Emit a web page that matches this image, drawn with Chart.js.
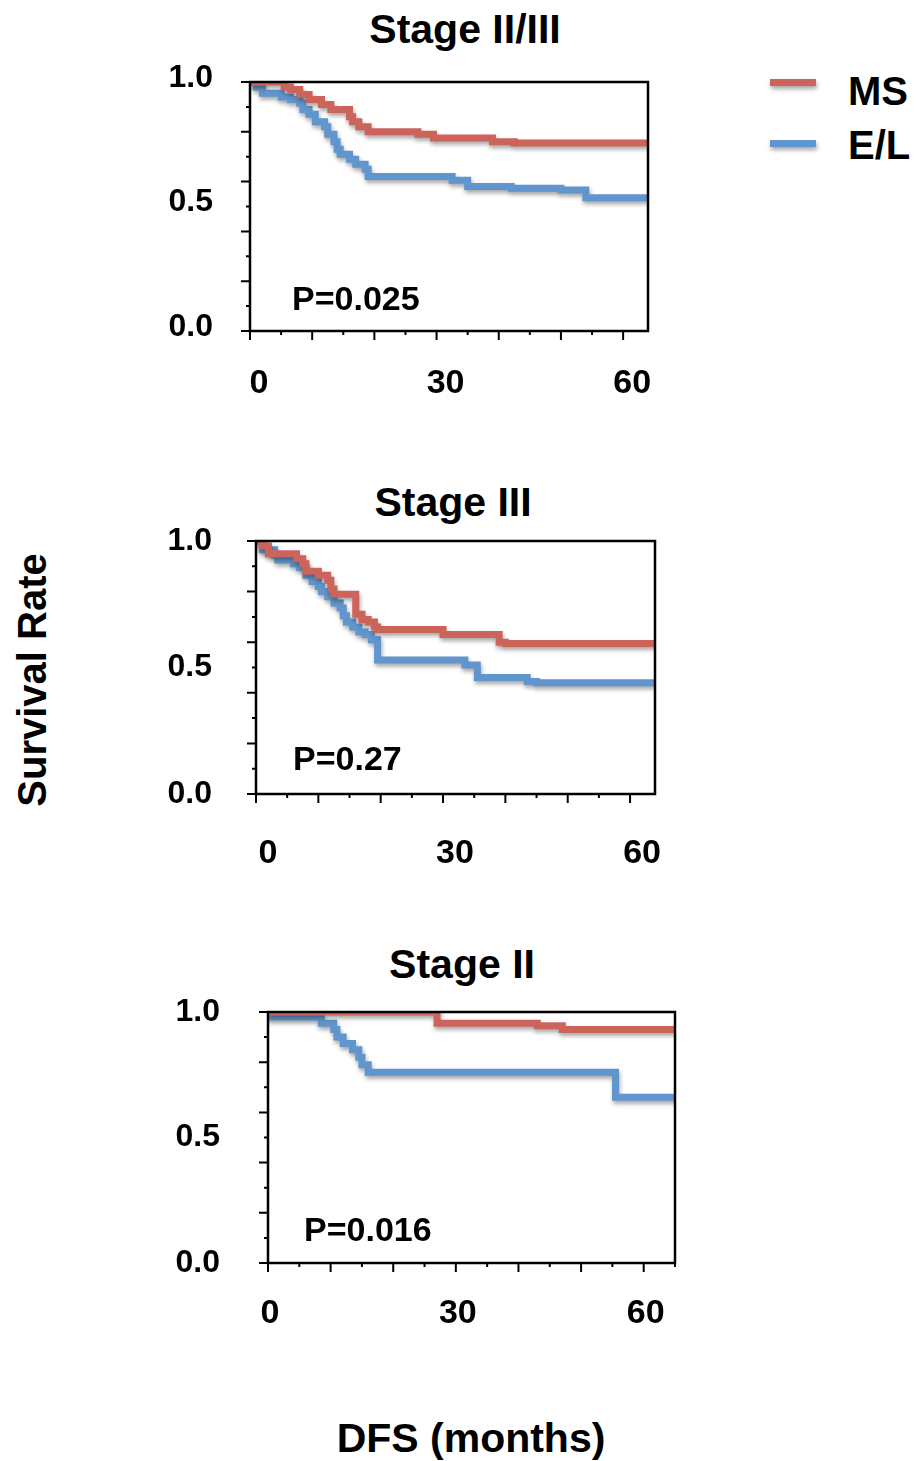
<!DOCTYPE html>
<html>
<head>
<meta charset="utf-8">
<script src="https://cdn.jsdelivr.net/npm/chart.js@4.4.1/dist/chart.umd.min.js"></script>
<style>
  body { margin: 0; background: #fff; font-family: "Liberation Sans", Arial, sans-serif; font-weight: bold; color: #000; }
  #page { position: relative; width: 916px; height: 1461px; overflow: hidden; }
  canvas { position: absolute; left: 0; }
  .txt { position: absolute; white-space: nowrap; line-height: 1; }
  .title { font-size: 41px; transform: translateX(-50%); }
  .key { position: absolute; height: 7px; width: 46px; box-shadow: 1px 3px 4px rgba(0,0,0,0.35); }
</style>
</head>
<body>
<div id="page">
  <div class="txt title" style="left:465px; top:9px;">Stage II/III</div>
  <div class="txt title" style="left:453px; top:482px;">Stage III</div>
  <div class="txt title" style="left:462px; top:944px;">Stage II</div>

  <div class="key" style="left:770px; top:79px; background:#cd645c;"></div>
  <div class="txt" style="left:848px; top:71px; font-size:40px;">MS</div>
  <div class="key" style="left:770px; top:140px; background:#6096cd;"></div>
  <div class="txt" style="left:848px; top:125px; font-size:40px;">E/L</div>

  <div class="txt" style="left:32px; top:680px; font-size:40px; transform: translate(-50%, -50%) rotate(-90deg);">Survival Rate</div>
  <div class="txt" style="left:471px; top:1418px; font-size:41px; transform: translateX(-50%);">DFS (months)</div>

  <canvas id="stage23" width="668" height="349" style="top:52px;"></canvas>
  <canvas id="stage3" width="675" height="353" style="top:511px;"></canvas>
  <canvas id="stage2" width="695" height="351" style="top:982px;"></canvas>
</div>

<script>
// 目盛りラベル
const xTickLabels = [0, 30, 60];
const yTickLabels = [0, 0.5, 1.0];

// Stage II/III
const stage23MsTime = [0, 5.5, 6.5, 8, 9.5, 11.5, 13, 16, 16.5, 17.5, 19, 27, 29.5, 39, 42.5, 64];
const stage23MsRate = [1.0, 0.98, 0.97, 0.95, 0.93, 0.91, 0.89, 0.86, 0.84, 0.82, 0.80, 0.79, 0.775, 0.76, 0.755, 0.755];
const stage23ElTime = [0, 1, 2, 5, 6.5, 8, 8.5, 9.5, 10.5, 12, 12.5, 13.5, 14, 14.5, 16, 17, 18.5, 19, 32.5, 35, 42, 50, 54, 64];
const stage23ElRate = [1.0, 0.98, 0.955, 0.94, 0.93, 0.915, 0.89, 0.87, 0.84, 0.82, 0.79, 0.76, 0.73, 0.71, 0.69, 0.67, 0.65, 0.62, 0.605, 0.58, 0.573, 0.566, 0.535, 0.535];

// Stage III
const stage3MsTime = [0, 1, 2, 6.5, 7.5, 8, 10, 11.5, 12, 12.5, 16, 17, 18, 19, 19.5, 30, 39, 40, 64];
const stage3MsRate = [1.0, 0.98, 0.95, 0.93, 0.91, 0.88, 0.865, 0.845, 0.81, 0.79, 0.71, 0.69, 0.68, 0.66, 0.65, 0.63, 0.60, 0.595, 0.595];
const stage3ElTime = [0, 1, 3, 3.5, 6, 7, 8, 9, 10, 10.5, 11.5, 12.5, 13.5, 14, 14.5, 15.5, 16.5, 17.5, 18.5, 19.5, 33.5, 35.5, 43.5, 45, 64];
const stage3ElRate = [1.0, 0.965, 0.945, 0.925, 0.91, 0.895, 0.865, 0.84, 0.82, 0.80, 0.78, 0.755, 0.735, 0.705, 0.68, 0.66, 0.64, 0.63, 0.61, 0.53, 0.51, 0.46, 0.445, 0.44, 0.44];

// Stage II
const stage2MsTime = [0, 27, 43, 47, 65];
const stage2MsRate = [1.0, 0.955, 0.945, 0.93, 0.93];
const stage2ElTime = [0, 0.3, 8.5, 10.5, 11, 12, 13.5, 14.5, 15, 16, 55.5, 65];
const stage2ElRate = [1.0, 0.98, 0.955, 0.93, 0.90, 0.875, 0.85, 0.82, 0.79, 0.76, 0.66, 0.66];

const RED = '#cd645c';
const BLUE = '#6096cd';

Chart.defaults.font.family = '"Liberation Sans", Arial, sans-serif';

function toPoints(times, rates) {
    return times.map((t, i) => ({ x: t, y: rates[i] }));
}

// 影・枠・目盛り・P値
const framePlugin = {
    id: 'frame',
    beforeDatasetsDraw(chart) {
        const ctx = chart.ctx;
        ctx.save();
        ctx.shadowColor = 'rgba(0,0,0,0.35)';
        ctx.shadowBlur = 4;
        ctx.shadowOffsetX = 1;
        ctx.shadowOffsetY = 3;
    },
    afterDatasetsDraw(chart, args, opts) {
        const ctx = chart.ctx;
        ctx.restore();
        const a = chart.chartArea;
        const xs = chart.scales.x;
        const ys = chart.scales.y;
        ctx.save();
        ctx.strokeStyle = '#000';
        ctx.lineWidth = 2.5;
        ctx.strokeRect(a.left, a.top, a.right - a.left, a.bottom - a.top);

        // 目盛り（長短）
        ctx.lineWidth = 2;
        ctx.beginPath();
        xs.ticks.forEach(t => {
            const px = xs.getPixelForValue(t.value);
            const len = t.value % 10 === 0 ? 9 : 4;
            ctx.moveTo(px, a.bottom);
            ctx.lineTo(px, a.bottom + len);
        });
        ys.ticks.forEach(t => {
            const py = ys.getPixelForValue(t.value);
            const len = Math.round(t.value * 10) % 2 === 0 ? 9 : 4;
            ctx.moveTo(a.left, py);
            ctx.lineTo(a.left - len, py);
        });
        ctx.stroke();

        ctx.fillStyle = '#000';
        ctx.font = 'bold 34px "Liberation Sans", Arial, sans-serif';
        ctx.textBaseline = 'alphabetic';
        ctx.fillText(opts.text, a.left + opts.dx, a.bottom - opts.dy);
        ctx.restore();
    }
};

function makePanel(p) {
    new Chart(document.getElementById(p.id), {
        type: 'line',
        data: {
            datasets: [
                { label: 'MS', data: toPoints(p.msTime, p.msRate), borderColor: RED },
                { label: 'E/L', data: toPoints(p.elTime, p.elRate), borderColor: BLUE }
            ]
        },
        options: {
            responsive: false,
            animation: false,
            events: [],
            layout: { padding: { top: 30, right: 20, left: 0, bottom: 0 } },
            elements: {
                line: { borderWidth: 7, stepped: true, tension: 0, fill: false, borderCapStyle: 'butt' },
                point: { radius: 0 }
            },
            scales: {
                x: {
                    type: 'linear',
                    min: 0,
                    max: p.xMax,
                    border: { display: false },
                    grid: { display: false, drawTicks: false },
                    ticks: {
                        stepSize: 5,
                        includeBounds: false,
                        autoSkip: false,
                        maxRotation: 0,
                        padding: p.xPad,
                        labelOffset: p.xOff,
                        color: '#000',
                        font: { size: 34, weight: 'bold' },
                        callback: v => xTickLabels.includes(v) ? String(v) : ''
                    },
                    afterFit: s => { s.height = 70; s.paddingLeft = 0; s.paddingRight = 0; }
                },
                y: {
                    min: 0,
                    max: 1,
                    border: { display: false },
                    grid: { display: false, drawTicks: false },
                    ticks: {
                        stepSize: 0.1,
                        autoSkip: false,
                        padding: p.yPad,
                        labelOffset: p.yOff,
                        color: '#000',
                        font: { size: 32, weight: 'bold' },
                        callback: v => yTickLabels.some(k => Math.abs(k - v) < 1e-6) ? v.toFixed(1) : ''
                    },
                    afterFit: s => { s.width = p.boxLeft; s.paddingTop = 0; s.paddingBottom = 0; }
                }
            },
            plugins: {
                legend: { display: false },
                tooltip: { enabled: false },
                frame: { text: p.pText, dx: p.pDx, dy: p.pDy }
            }
        },
        plugins: [framePlugin]
    });
}

document.addEventListener("DOMContentLoaded", function () {
    makePanel({
        id: 'stage23', boxLeft: 250, xMax: 64, xPad: 32, xOff: 9, yPad: 37, yOff: -4,
        msTime: stage23MsTime, msRate: stage23MsRate, elTime: stage23ElTime, elRate: stage23ElRate,
        pText: 'P=0.025', pDx: 42, pDy: 21
    });
    makePanel({
        id: 'stage3', boxLeft: 256, xMax: 64, xPad: 39, xOff: 12, yPad: 44, yOff: 0,
        msTime: stage3MsTime, msRate: stage3MsRate, elTime: stage3ElTime, elRate: stage3ElRate,
        pText: 'P=0.27', pDx: 37, pDy: 24
    });
    makePanel({
        id: 'stage2', boxLeft: 268, xMax: 65, xPad: 30, xOff: 2, yPad: 48, yOff: 0,
        msTime: stage2MsTime, msRate: stage2MsRate, elTime: stage2ElTime, elRate: stage2ElRate,
        pText: 'P=0.016', pDx: 36, pDy: 22
    });
});
</script>
</body>
</html>
